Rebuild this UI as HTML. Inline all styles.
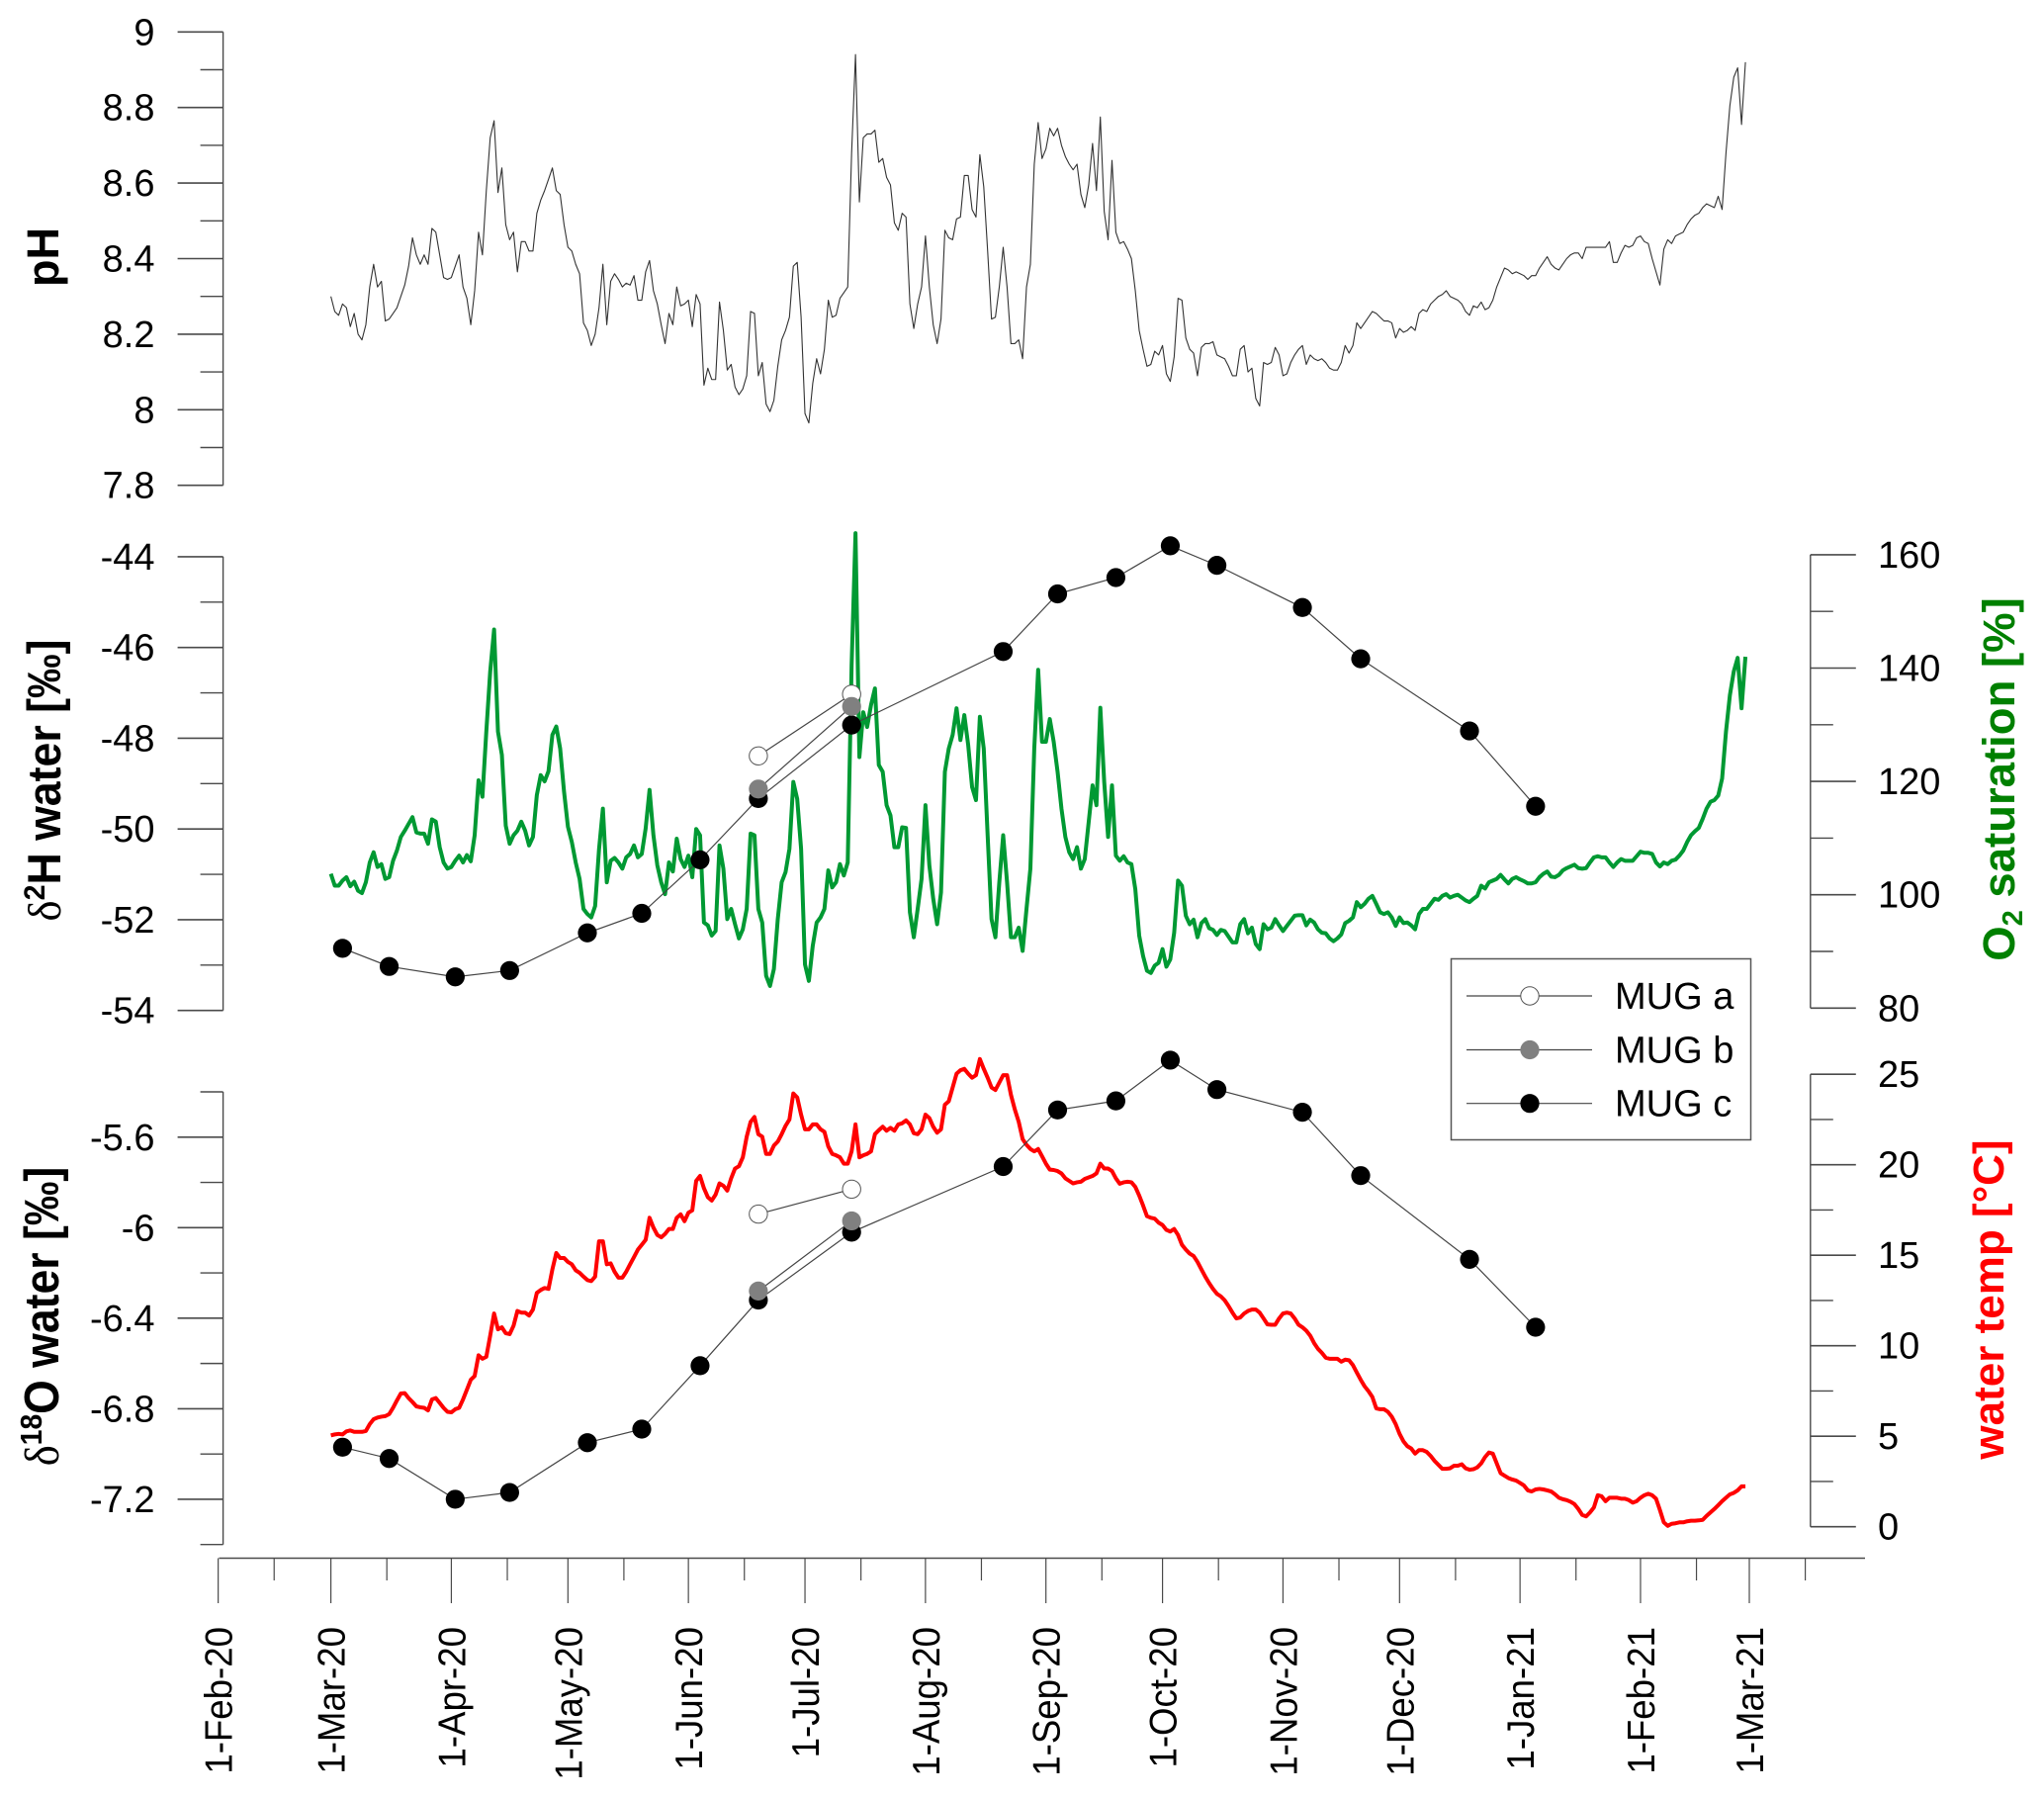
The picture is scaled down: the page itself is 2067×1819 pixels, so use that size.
<!DOCTYPE html>
<html lang="en">
<head>
<meta charset="utf-8">
<title>pH, isotopes, oxygen saturation and water temperature time series</title>
<style>
html,body{margin:0;padding:0;background:#fff;}
svg{display:block;font-family:"Liberation Sans",Arial,sans-serif;}
.axis-title{font-weight:bold;text-anchor:middle;}
.delta{font-family:"Liberation Serif",serif;font-weight:normal;}
</style>
</head>
<body>
<svg id="chart" xmlns="http://www.w3.org/2000/svg" width="2067" height="1819" viewBox="0 0 2067 1819">
<rect x="0" y="0" width="2067" height="1819" fill="#ffffff"/>

<g id="plot"></g>

<text class="axis-title" transform="translate(59,260) rotate(-90)" font-size="45">pH</text>
<text class="axis-title" transform="translate(61,789) rotate(-90) scale(0.95,1)" font-size="47"><tspan class="delta">δ</tspan><tspan font-size="30" dy="-16">2</tspan><tspan dy="16">H water [‰]</tspan></text>
<text class="axis-title" transform="translate(59,1331) rotate(-90) scale(0.91,1)" font-size="49"><tspan class="delta">δ</tspan><tspan font-size="31" dy="-17">18</tspan><tspan dy="17">O water [‰]</tspan></text>
<text class="axis-title" fill="#008000" transform="translate(2037,788) rotate(-90)" font-size="45.5">O<tspan font-size="29" dy="8">2</tspan><tspan dy="-8"> saturation [%]</tspan></text>
<text class="axis-title" fill="#ff0000" transform="translate(2026,1314) rotate(-90)" font-size="44">water temp [°C]</text>

<g>
  <rect x="1467.5" y="969.5" width="303" height="183" fill="#ffffff" stroke="#555555" stroke-width="1.5"/>
  <g>
    <line x1="1483" x2="1610" y1="1007" y2="1007" stroke="#444444" stroke-width="1.2"/>
    <circle cx="1547" cy="1007" r="9.2" fill="#ffffff" stroke="#555555" stroke-width="1"/>
    <text x="1633" y="1020" font-size="38" fill="#000000">MUG a</text>
  </g>
  <g>
    <line x1="1483" x2="1610" y1="1061.5" y2="1061.5" stroke="#444444" stroke-width="1.2"/>
    <circle cx="1547" cy="1061.5" r="9.6" fill="#808080"/>
    <text x="1633" y="1074.5" font-size="38" fill="#000000">MUG b</text>
  </g>
  <g>
    <line x1="1483" x2="1610" y1="1115.7" y2="1115.7" stroke="#444444" stroke-width="1.2"/>
    <circle cx="1547" cy="1115.7" r="9.6" fill="#000000"/>
    <text x="1633" y="1128.7" font-size="38" fill="#000000">MUG c</text>
  </g>
</g>
</svg>

<script>
// ---------- data ----------
const monthLabels = ["1-Feb-20","1-Mar-20","1-Apr-20","1-May-20","1-Jun-20","1-Jul-20","1-Aug-20","1-Sep-20","1-Oct-20","1-Nov-20","1-Dec-20","1-Jan-21","1-Feb-21","1-Mar-21"];
const monthDays = [-29,0,31,61,92,122,153,184,214,245,275,306,337,365];
const minorOffsetDays = 14.4;

const phMajorTicks = [7.8,8,8.2,8.4,8.6,8.8,9];
const phMinorTicks = [7.9,8.1,8.3,8.5,8.7,8.9];
const d2hMajorTicks = [-54,-52,-50,-48,-46,-44];
const d2hMinorTicks = [-53,-51,-49,-47,-45];
const d18oMajorTicks = [-7.2,-6.8,-6.4,-6,-5.6];
const d18oMinorTicks = [-7.4,-7,-6.6,-6.2,-5.8,-5.4];
const o2MajorTicks = [80,100,120,140,160];
const o2MinorTicks = [90,110,130,150];
const tempMajorTicks = [0,5,10,15,20,25];
const tempMinorTicks = [2.5,7.5,12.5,17.5,22.5];

// daily values, first entry is 1-Mar-20
const phValues = [8.30,8.26,8.25,8.28,8.27,8.22,8.255,8.20,8.185,8.225,8.325,8.385,8.325,8.34,8.235,8.24,8.255,8.27,8.30,8.33,8.38,8.455,8.41,8.385,8.41,8.385,8.48,8.47,8.41,8.35,8.345,8.35,8.38,8.41,8.325,8.295,8.225,8.315,8.47,8.41,8.58,8.72,8.765,8.575,8.64,8.49,8.45,8.47,8.365,8.445,8.445,8.42,8.42,8.52,8.555,8.58,8.61,8.64,8.58,8.57,8.49,8.43,8.42,8.385,8.36,8.23,8.21,8.17,8.20,8.27,8.385,8.225,8.34,8.36,8.345,8.325,8.335,8.33,8.355,8.29,8.29,8.365,8.395,8.315,8.28,8.225,8.175,8.255,8.225,8.325,8.275,8.28,8.29,8.22,8.305,8.28,8.065,8.11,8.08,8.08,8.285,8.21,8.105,8.12,8.06,8.04,8.055,8.09,8.26,8.255,8.09,8.125,8.015,7.995,8.025,8.115,8.185,8.21,8.245,8.38,8.39,8.245,7.99,7.965,8.07,8.135,8.095,8.16,8.29,8.245,8.25,8.295,8.31,8.325,8.68,8.94,8.55,8.72,8.73,8.73,8.74,8.655,8.665,8.615,8.595,8.495,8.475,8.52,8.51,8.28,8.215,8.28,8.325,8.46,8.325,8.225,8.175,8.24,8.475,8.455,8.45,8.505,8.51,8.62,8.62,8.53,8.51,8.675,8.59,8.42,8.24,8.245,8.325,8.43,8.325,8.175,8.175,8.185,8.135,8.325,8.385,8.65,8.76,8.665,8.69,8.745,8.725,8.745,8.70,8.67,8.65,8.635,8.65,8.57,8.535,8.595,8.705,8.58,8.775,8.525,8.45,8.66,8.47,8.44,8.445,8.425,8.40,8.315,8.21,8.16,8.115,8.12,8.155,8.145,8.17,8.095,8.075,8.14,8.295,8.29,8.19,8.16,8.15,8.09,8.165,8.175,8.175,8.18,8.145,8.14,8.135,8.115,8.09,8.09,8.16,8.17,8.10,8.11,8.03,8.01,8.125,8.12,8.125,8.165,8.145,8.09,8.095,8.125,8.145,8.16,8.17,8.12,8.145,8.135,8.13,8.135,8.125,8.11,8.105,8.105,8.125,8.17,8.15,8.17,8.23,8.215,8.23,8.245,8.26,8.255,8.245,8.235,8.235,8.23,8.19,8.215,8.205,8.21,8.22,8.21,8.255,8.265,8.26,8.28,8.29,8.30,8.305,8.315,8.30,8.295,8.29,8.28,8.26,8.25,8.275,8.27,8.285,8.265,8.27,8.29,8.325,8.35,8.375,8.37,8.36,8.365,8.36,8.355,8.345,8.355,8.355,8.375,8.39,8.405,8.385,8.375,8.37,8.385,8.40,8.41,8.415,8.415,8.40,8.43,8.43,8.43,8.43,8.43,8.43,8.445,8.39,8.39,8.415,8.435,8.43,8.435,8.455,8.46,8.445,8.44,8.40,8.365,8.33,8.425,8.45,8.44,8.46,8.465,8.47,8.49,8.505,8.515,8.52,8.535,8.545,8.54,8.535,8.565,8.53,8.68,8.805,8.88,8.905,8.755,8.92];

const o2Values = [103.7,101.6,101.6,102.5,103.1,101.5,102.3,100.7,100.3,102.2,105.7,107.5,104.9,105.4,102.8,103.1,106,107.8,110.2,111.3,112.5,113.7,111,110.8,110.8,109,113.3,112.9,108.4,105.7,104.6,104.9,106,106.9,105.7,107,105.9,110.5,120.2,117.3,128.8,139.4,146.8,128.8,124.7,112.2,109,110.5,111.3,112.9,111.3,108.7,110.2,117.6,121.1,120,121.8,128.2,129.7,125.8,118.2,112,109.3,105.7,102.8,97.5,96.6,96,98,108,115.2,102.2,106,106.5,105.7,104.6,106.6,107.2,108.7,106.6,107.2,111.7,118.5,110.5,105.2,102.2,100.1,105.7,104.1,109.9,106.3,104.9,106.9,103.1,111.6,110.5,95.1,94.6,92.8,93.6,108.7,104.6,95.7,97.5,94.8,92.3,93.9,97.5,110.8,110.5,97.5,95.1,85.7,83.9,86.9,95.7,102.2,104,108.1,119.9,116.9,108.1,87.7,84.8,91,95.1,96,97.5,104.3,101.3,102.2,105.4,103.4,105.7,140.5,163.8,124.3,132.2,129.6,133.5,136.4,122.9,121.7,115.8,114,108.4,108.4,111.9,111.8,96.9,92.5,97.5,102.8,115.8,105.2,99.3,94.8,100.4,121.7,125.8,128.2,132.9,127.3,131.7,126.4,119,116.7,131.4,125.8,110.5,95.7,92.5,102.2,110.5,102.2,92.5,92.5,94.2,90.1,97.5,104.6,125.8,139.7,127,127,131,127,121.7,115.2,110.2,107.5,106.3,108.4,104.6,106.3,112.8,119.3,115.8,133,119.9,110.2,119.3,106.9,106,106.8,105.7,105.4,101,92.8,89.2,86.6,86.2,87.5,88,90.4,87.3,88.6,93.3,102.5,101.6,96.3,94.8,95.6,92.5,95,95.7,94.1,93.8,92.9,93.8,93.6,92.6,91.6,91.6,94.8,95.7,93.2,94.2,91.3,90.4,94.8,93.9,94.2,95.7,94.6,93.6,94.5,95.4,96.3,96.4,96.4,94.6,95.6,95.1,93.9,93.3,93.2,92.3,91.8,92.3,93,95,95.4,96,98.7,97.8,98.4,99.3,99.8,98.4,96.9,96.6,96.9,96,94.5,96,95,95.1,94.6,93.9,96.6,97.5,97.5,98.4,99.3,99.1,99.8,100.1,99.5,99.8,100,99.5,99,98.7,99.3,99.8,101.6,101.1,102.2,102.5,102.8,103.5,102.7,102,102.8,103.1,102.7,102.4,102,102,102.2,103.1,103.7,104.1,103.2,103.1,103.5,104.3,104.7,105,105.3,104.7,104.6,104.7,105.7,106.6,106.8,106.6,106.6,105.7,104.9,105.7,106.3,106,106,106,106.8,107.6,107.4,107.4,107.2,105.7,105,105.7,105.4,106,106.2,106.9,107.8,109.3,110.5,111.2,111.8,113.4,115.2,116.4,116.7,117.5,120.5,128.8,135.2,139.4,141.8,132.9,142];

const tempValues = [5.05,5.1,5.13,5.1,5.27,5.32,5.24,5.24,5.24,5.29,5.67,5.94,6.03,6.08,6.11,6.22,6.57,6.98,7.36,7.38,7.11,6.89,6.65,6.6,6.57,6.43,7.03,7.11,6.84,6.57,6.35,6.32,6.49,6.57,7.03,7.57,8.12,8.33,9.47,9.28,9.39,10.56,11.78,10.91,11.02,10.69,10.64,11.1,11.92,11.83,11.83,11.67,12,12.92,13.08,13.19,13.14,14.22,15.12,14.85,14.85,14.63,14.5,14.17,14.03,13.82,13.63,13.57,13.82,15.77,15.77,14.5,14.55,14.09,13.76,13.76,14.09,14.5,14.9,15.31,15.58,15.85,17.07,16.53,16.12,15.99,16.18,16.45,16.45,17.07,17.26,16.88,17.35,17.48,19.11,19.38,18.7,18.21,18.02,18.35,18.97,18.84,18.57,19.25,19.79,19.92,20.41,21.55,22.37,22.64,21.69,21.55,20.6,20.6,21.06,21.28,21.69,22.15,22.5,23.94,23.72,22.77,21.96,21.96,22.23,22.23,21.96,21.82,21.01,20.6,20.52,20.41,20.06,20.06,20.74,22.23,20.41,20.52,20.6,20.74,21.69,21.91,22.1,21.88,22.04,21.88,22.23,22.29,22.45,22.23,21.74,21.69,21.96,22.77,22.58,22.1,21.77,21.96,23.32,23.51,24.27,25.03,25.22,25.3,25.03,24.81,24.95,25.84,25.3,24.81,24.27,24.13,24.54,24.95,24.95,23.86,23.05,22.37,21.42,21.1,20.87,20.74,20.87,20.47,20.06,19.73,19.71,19.65,19.52,19.25,19.11,18.97,19.03,19.06,19.22,19.3,19.38,19.52,20.06,19.79,19.79,19.65,19.25,18.95,19.03,19.06,19.03,18.78,18.3,17.75,17.16,17.07,17.02,16.8,16.67,16.4,16.31,16.45,16.12,15.58,15.31,15.09,14.96,14.63,14.22,13.82,13.46,13.14,12.87,12.73,12.51,12.19,11.83,11.51,11.56,11.78,11.92,12,12,11.83,11.51,11.18,11.16,11.16,11.51,11.78,11.83,11.78,11.51,11.16,11.02,10.83,10.56,10.15,9.83,9.61,9.34,9.28,9.28,9.28,9.12,9.23,9.2,8.93,8.52,8.12,7.76,7.49,7.17,6.54,6.49,6.49,6.35,6.08,5.67,5.13,4.72,4.45,4.32,4.04,4.23,4.23,4.13,3.91,3.64,3.42,3.2,3.2,3.23,3.37,3.37,3.45,3.23,3.15,3.18,3.28,3.5,3.85,4.1,4.04,3.5,2.96,2.82,2.69,2.61,2.55,2.42,2.28,2.01,1.95,2.06,2.09,2.06,2.01,1.95,1.79,1.6,1.52,1.47,1.38,1.25,0.98,0.65,0.57,0.79,1.06,1.74,1.68,1.41,1.6,1.6,1.6,1.55,1.55,1.47,1.33,1.41,1.6,1.74,1.82,1.74,1.55,0.92,0.24,0.05,0.16,0.19,0.24,0.24,0.3,0.33,0.33,0.35,0.38,0.6,0.79,0.98,1.19,1.41,1.6,1.79,1.87,2.01,2.23,2.23];

// sampling days (days since 1-Mar-20)
const mugCDays = [3,15,32,46,66,80,95,110,134,173,187,202,216,228,250,265,293,310];
const mugABDays = [110,134];

const d2hMugC = [-52.63,-53.03,-53.26,-53.12,-52.29,-51.86,-50.68,-49.33,-47.71,-46.09,-44.82,-44.46,-43.76,-44.19,-45.12,-46.25,-47.84,-49.5];
const d2hMugB = [-49.12,-47.3];
const d2hMugA = [-48.39,-47.03];

const d18oMugC = [-6.97,-7.02,-7.2,-7.17,-6.95,-6.89,-6.61,-6.32,-6.02,-5.73,-5.48,-5.44,-5.26,-5.39,-5.49,-5.77,-6.14,-6.44];
const d18oMugB = [-6.28,-5.97];
const d18oMugA = [-5.94,-5.83];

// ---------- scales ----------
function linear(d0, d1, r0, r1) {
  return function (v) { return r0 + (v - d0) * (r1 - r0) / (d1 - d0); };
}
const xScale = linear(0, 365, 334.6, 1769);
const yPh = linear(7.8, 9, 490.7, 32.3);
const yD2h = linear(-54, -44, 1021.7, 562.9);
const yO2 = linear(80, 160, 1019.3, 560.9);
const yD18o = linear(-7.4, -5.4, 1561.7, 1104);
const yTemp = linear(0, 25, 1543.7, 1086.2);

const plot = document.getElementById('plot');
const SVGNS = 'http://www.w3.org/2000/svg';
function make(tag, attrs, parent) {
  const el = document.createElementNS(SVGNS, tag);
  for (const k in attrs) el.setAttribute(k, attrs[k]);
  parent.appendChild(el);
  return el;
}
const AXIS_COLOR = '#4a4a4a';

function drawYAxis(name, scale, majors, minors, axisX, dir) {
  const g = make('g', {}, plot);
  
  
  const lo = Math.min(...majors, ...minors);
  const hi = Math.max(...majors, ...minors);
  const spine = make('line', {x1: axisX, x2: axisX, y1: scale(lo), y2: scale(hi), stroke: AXIS_COLOR, 'stroke-width': 1.4}, g);
  
  
  majors.forEach(function (v) {
    const y = scale(v);
    const tick = make('line', {x1: axisX, x2: axisX + dir * 46, y1: y, y2: y, stroke: AXIS_COLOR, 'stroke-width': 1.6}, g);
    
    
    const label = make('text', {
      x: dir < 0 ? 156.5 : 1899,
      y: y + 13,
      'font-size': 38,
      fill: '#000000',
      'text-anchor': dir < 0 ? 'end' : 'start'
    }, g);
    
    
    label.textContent = String(v);
  });
  minors.forEach(function (v) {
    const y = scale(v);
    const tick = make('line', {x1: axisX, x2: axisX + dir * 23, y1: y, y2: y, stroke: AXIS_COLOR, 'stroke-width': 1.4}, g);
    
    
  });
}

function drawXAxis() {
  const g = make('g', {}, plot);
  
  
  const axisY = 1575.5;
  const spine = make('line', {x1: 221.5, x2: 1886, y1: axisY, y2: axisY, stroke: AXIS_COLOR, 'stroke-width': 1.4}, g);
  
  
  monthDays.forEach(function (day, i) {
    const x = xScale(day);
    const tick = make('line', {x1: x, x2: x, y1: axisY, y2: 1621, stroke: AXIS_COLOR, 'stroke-width': 1.2}, g);
    
    
    const label = make('text', {
      transform: 'translate(' + (x + 14) + ',1645) rotate(-90) scale(0.94,1)',
      'font-size': 39,
      fill: '#000000',
      'text-anchor': 'end'
    }, g);
    
    
    label.textContent = monthLabels[i];
    const mx = xScale(day + minorOffsetDays);
    const minor = make('line', {x1: mx, x2: mx, y1: axisY, y2: 1598, stroke: AXIS_COLOR, 'stroke-width': 1.2}, g);
    
    
  });
}

function dailyPoints(values, yScale) {
  return values.map(function (v, i) { return xScale(i).toFixed(2) + ',' + yScale(v).toFixed(2); }).join(' ');
}

function drawDaily(name, values, yScale, color, width) {
  const line = make('polyline', {
    points: dailyPoints(values, yScale),
    fill: 'none',
    stroke: color,
    'stroke-width': width,
    'stroke-linejoin': 'round'
  }, plot);
  
  
}

function drawMug(name, days, values, yScale, fill, stroke) {
  const g = make('g', {}, plot);
  
  
  const pts = days.map(function (d, i) { return xScale(d).toFixed(2) + ',' + yScale(values[i]).toFixed(2); }).join(' ');
  const line = make('polyline', {points: pts, fill: 'none', stroke: '#444444', 'stroke-width': 1.2}, g);
  
  
  days.forEach(function (d, i) {
    const dot = make('circle', {cx: xScale(d), cy: yScale(values[i]), r: stroke ? 9.2 : 9.6, fill: fill}, g);
    if (stroke) {
      dot.setAttribute('stroke', stroke);
      dot.setAttribute('stroke-width', '1');
    }
    
    
  });
}

// ---------- draw ----------
drawYAxis('ph', yPh, phMajorTicks, phMinorTicks, 225.6, -1);
drawYAxis('d2h', yD2h, d2hMajorTicks, d2hMinorTicks, 225.6, -1);
drawYAxis('d18o', yD18o, d18oMajorTicks, d18oMinorTicks, 225.6, -1);
drawYAxis('o2-saturation', yO2, o2MajorTicks, o2MinorTicks, 1830.8, 1);
drawYAxis('water-temp', yTemp, tempMajorTicks, tempMinorTicks, 1830.8, 1);
drawXAxis();

drawDaily('ph-line', phValues, yPh, '#333333', 1.1);
drawDaily('o2-saturation-line', o2Values, yO2, '#009933', 4);
drawDaily('water-temp-line', tempValues, yTemp, '#ff0000', 4);

drawMug('d2h-mug-c', mugCDays, d2hMugC, yD2h, '#000000', null);
drawMug('d2h-mug-a', mugABDays, d2hMugA, yD2h, '#ffffff', '#555555');
drawMug('d2h-mug-b', mugABDays, d2hMugB, yD2h, '#808080', null);

drawMug('d18o-mug-c', mugCDays, d18oMugC, yD18o, '#000000', null);
drawMug('d18o-mug-a', mugABDays, d18oMugA, yD18o, '#ffffff', '#555555');
drawMug('d18o-mug-b', mugABDays, d18oMugB, yD18o, '#808080', null);
</script>
</body>
</html>
